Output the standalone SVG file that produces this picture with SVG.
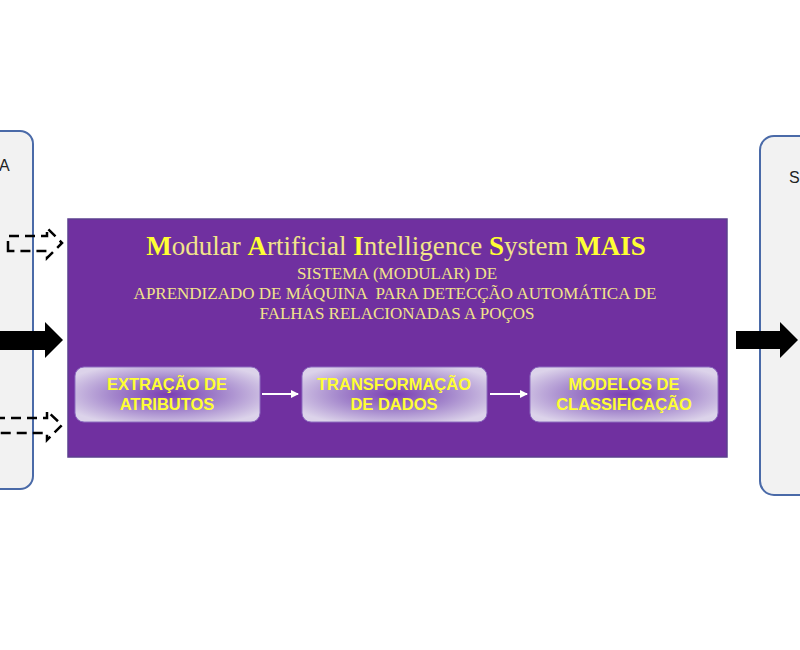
<svg xmlns="http://www.w3.org/2000/svg" width="800" height="650" viewBox="0 0 800 650">
<defs>
<style>
.side{fill:#f2f2f2;stroke:#4a6aa8;stroke-width:2}
.blk{fill:#000}
.dash{fill:none;stroke:#000;stroke-width:2.5;stroke-dasharray:10 6}
.ttl{font-family:"Liberation Serif",serif;font-size:27px;fill:#f2e48a}
.cap{font-weight:bold;fill:#ffff33}
.sub{font-family:"Liberation Serif",serif;font-size:17px;fill:#f2e48a}
.mod{font-family:"Liberation Sans",Arial,sans-serif;font-weight:bold;font-size:16.5px;fill:#ffff33}
.inner{fill:url(#rg);stroke:#8d6cc0;stroke-width:1}
.wl{stroke:#fff;stroke-width:2;marker-end:url(#wh)}
.lbl{font-family:"Liberation Sans",Arial,sans-serif;font-size:16px;fill:#222}
</style>
<radialGradient id="rg" cx="50%" cy="50%" r="60%">
<stop offset="0" stop-color="#7a3db2"/>
<stop offset="0.5" stop-color="#a487cc"/>
<stop offset="1" stop-color="#dcd3ea"/>
</radialGradient>
<marker id="wh" markerWidth="8" markerHeight="8" refX="7" refY="4" orient="auto" markerUnits="userSpaceOnUse">
<path d="M0,0 L8,4 L0,8 Z" fill="#fff"/>
</marker>
</defs>
<rect width="800" height="650" fill="#fff"/>
<g id="left-box">
<rect class="side" x="-20" y="131" width="53" height="358" rx="13"/>
<text class="lbl" x="-1" y="171">A</text>
</g>
<g id="right-box">
<rect class="side" x="760" y="136" width="60" height="359" rx="14"/>
<text class="lbl" x="789" y="183">S</text>
</g>
<g id="mais">
<rect x="68" y="219" width="659" height="238" fill="#7030a0" stroke="#5b3f8e" stroke-width="1.5"/>
<text class="ttl" x="396" y="255" text-anchor="middle"><tspan class="cap">M</tspan>odular <tspan class="cap">A</tspan>rtificial <tspan class="cap">I</tspan>ntelligence <tspan class="cap">S</tspan>ystem <tspan class="cap">MAIS</tspan></text>
<text class="sub" x="397" y="279" text-anchor="middle">SISTEMA (MODULAR) DE</text>
<text class="sub" x="395" y="299" text-anchor="middle" xml:space="preserve">APRENDIZADO DE MÁQUINA  PARA DETECÇÃO AUTOMÁTICA DE</text>
<text class="sub" x="397" y="319" text-anchor="middle">FALHAS RELACIONADAS A POÇOS</text>
</g>
<g id="extracao">
<rect class="inner" x="75" y="367" width="185" height="55" rx="9"/>
<text class="mod" x="167" y="390" text-anchor="middle">EXTRAÇÃO DE</text>
<text class="mod" x="167" y="410" text-anchor="middle">ATRIBUTOS</text>
</g>
<g id="transformacao">
<rect class="inner" x="302" y="367" width="185" height="55" rx="9"/>
<text class="mod" x="394" y="390" text-anchor="middle">TRANSFORMAÇÃO</text>
<text class="mod" x="394" y="410" text-anchor="middle">DE DADOS</text>
</g>
<g id="modelos">
<rect class="inner" x="530" y="367" width="188" height="55" rx="9"/>
<text class="mod" x="624" y="390" text-anchor="middle">MODELOS DE</text>
<text class="mod" x="624" y="410" text-anchor="middle">CLASSIFICAÇÃO</text>
</g>
<g id="connectors">
<line class="wl" x1="262" y1="394" x2="298" y2="394"/>
<line class="wl" x1="490" y1="394" x2="527" y2="394"/>
<path class="blk" d="M-5,331 L45,331 L45,322 L63,340 L45,358 L45,350 L-5,350 Z"/>
<path class="blk" d="M736,331 L780,331 L780,322 L798,340 L780,358 L780,349 L736,349 Z"/>
<path class="dash" d="M8,251 L8,236 L47,236 L47,228 L62,243 L47,258 L47,251 Z"/>
<path class="dash" d="M-5,418 L47,418 L47,411 L62,425 L47,440 L47,433 L-5,433"/>
</g>
</svg>
